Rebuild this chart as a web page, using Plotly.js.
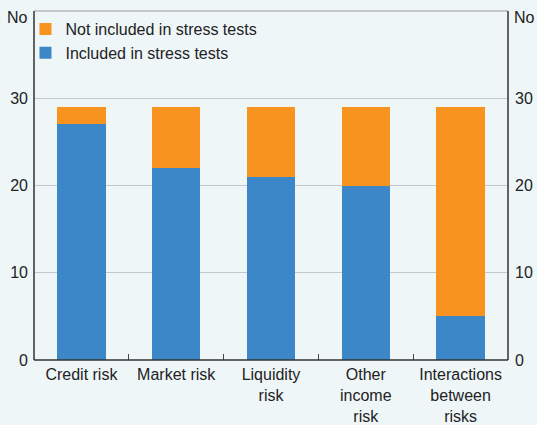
<!DOCTYPE html>
<html>
<head>
<meta charset="utf-8">
<script src="https://cdn.plot.ly/plotly-3.0.1.min.js"></script>
<style>html,body{margin:0;padding:0;background:#eef6f8;}#chart{width:537px;height:425px;}</style>
</head>
<body>
<div id="chart"></div>
<script>
const categories = ["Credit risk", "Market risk", "Liquidity<br>risk", "Other<br>income<br>risk", "Interactions<br>between<br>risks"];
const included = [27, 22, 21, 20, 5];
const notIncluded = [2, 7, 8, 9, 24];
const yTicks = [0, 10, 20, 30];

const bg = "#eef6f8";
const font = {family: "Liberation Sans, Arial, sans-serif", size: 16, color: "#222"};
const xfont = {family: "Liberation Sans, Arial, sans-serif", size: 16, color: "#222"};

const traces = [
  {type: "bar", name: "Included in stress tests", x: categories, y: included,
   marker: {color: "#3b87c8", line: {width: 0}}, hoverinfo: "skip"},
  {type: "bar", name: "Not included in stress tests", x: categories, y: notIncluded,
   marker: {color: "#f7931e", line: {width: 0}}, hoverinfo: "skip"},
  {type: "scatter", x: categories, y: included, yaxis: "y2", mode: "none", showlegend: false, hoverinfo: "skip"}
];

const layout = {
  width: 537, height: 425,
  paper_bgcolor: bg, plot_bgcolor: bg,
  font: font,
  margin: {l: 34, r: 29, t: 11, b: 65},
  barmode: "stack",
  bargap: 0.49,
  showlegend: true,
  legend: {x: -0.018, y: 0.997, xanchor: "left", yanchor: "top", traceorder: "reversed",
           bgcolor: "rgba(0,0,0,0)", font: {size: 16, color: "#222"}, itemwidth: 30, tracegroupgap: 0},
  xaxis: {type: "category", tickson: "boundaries", ticks: "inside", ticklen: 6, tickcolor: "#444",
          tickwidth: 1, showgrid: false, showline: false, zeroline: false, tickfont: xfont, ticklabelstandoff: 3},
  yaxis: {range: [0, 40], tickvals: yTicks, showgrid: true, gridcolor: "#c4c8cc", gridwidth: 1,
          zeroline: false, showline: false, ticks: "", ticklabelstandoff: 5, tickfont: font, fixedrange: true},
  yaxis2: {range: [0, 40], tickvals: yTicks, overlaying: "y", side: "right", showgrid: false,
           zeroline: false, showline: false, ticks: "", ticklabelstandoff: 6, tickfont: font},
  shapes: [
    {type: "line", xref: "paper", yref: "paper", x0: 0, x1: 1, y0: 1, y1: 1, line: {color: "#999", width: 1}},
    {type: "line", xref: "paper", yref: "paper", x0: 0, x1: 0, y0: 0, y1: 1, line: {color: "#333", width: 1.5}},
    {type: "line", xref: "paper", yref: "paper", x0: 1, x1: 1, y0: 0, y1: 1, line: {color: "#333", width: 1.5}},
    {type: "line", xref: "paper", yref: "paper", x0: 0, x1: 1, y0: 0, y1: 0, line: {color: "#333", width: 1.5}}
  ],
  annotations: [
    {text: "No", xref: "paper", yref: "paper", x: 0, y: 1, xanchor: "right", yanchor: "middle", xshift: -4, yshift: -6, showarrow: false, font: font},
    {text: "No", xref: "paper", yref: "paper", x: 1, y: 1, xanchor: "left", yanchor: "middle", xshift: 4, yshift: -6, showarrow: false, font: font}
  ]
};

Plotly.newPlot("chart", traces, layout, {displayModeBar: false, staticPlot: true});
</script>
</body>
</html>
